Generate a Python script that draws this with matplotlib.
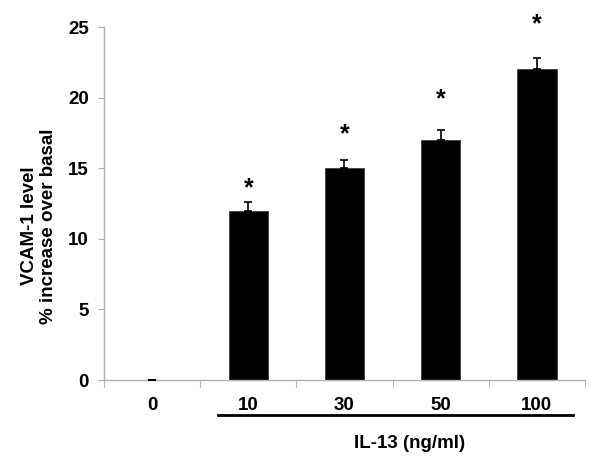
import matplotlib
matplotlib.use("Agg")
import matplotlib.pyplot as plt
import matplotlib.transforms as mtransforms

categories = ["0", "10", "30", "50", "100"]
values = [0, 12, 15, 17, 22]
errors = [0, 0.6, 0.6, 0.7, 0.8]
star_y = [None, 13.6, 17.4, 19.9, 25.2]
yticks = [0, 5, 10, 15, 20, 25]

plt.rcParams['font.family'] = ['Liberation Sans', 'DejaVu Sans']
plt.rcParams['font.weight'] = 'bold'

fig = plt.figure(figsize=(6, 4.58), dpi=100)
ax = fig.add_axes([0.1733, 0.1703, 0.8017, 0.7707])

x = list(range(len(categories)))
ax.bar(x, values, width=0.41, color='black', edgecolor='#404040', linewidth=0.6, zorder=2)
ax.errorbar(x, values, yerr=[[0]*len(errors), errors], fmt='none', ecolor='black',
            elinewidth=1.2, capsize=3, capthick=1.2, zorder=3)

for xi, sy in zip(x, star_y):
    if sy is not None:
        ax.text(xi, sy, '*', ha='center', va='center', fontsize=18, fontweight='bold')

ax.set_xlim(-0.5, 4.5)
ax.set_ylim(0, 25)
ax.set_yticks(yticks)
ax.set_yticklabels([str(t) for t in yticks], fontsize=13.5, fontweight='bold')
ax.set_xticks([i + 0.5 for i in range(-1, len(categories))])
ax.set_xticklabels([])
ax.set_xticks(x, minor=True)
ax.set_xticklabels(categories, minor=True, fontsize=13.5, fontweight='bold')
ax.tick_params(axis='x', which='minor', length=0, pad=12)
ax.tick_params(axis='x', which='major', length=5, color='#b0b0b0', direction='out')
ax.tick_params(axis='y', length=4, color='#b0b0b0', direction='out', pad=7)

for s in ['top', 'right']:
    ax.spines[s].set_visible(False)
for s in ['left', 'bottom']:
    ax.spines[s].set_color('#b0b0b0')
    ax.spines[s].set_linewidth(1.0)

trans = mtransforms.blended_transform_factory(ax.transData, ax.transAxes)
ax.plot([0.685, 4.375], [-0.098, -0.098], color='black', linewidth=2, transform=trans, clip_on=False)

fig.text(0.683, 1 - 443/458, 'IL-13 (ng/ml)', ha='center', va='center', fontsize=13.5, fontweight='bold')
fig.text(0.065, 1 - 226/458, 'VCAM-1 level\n% increase over basal', ha='center', va='center',
         rotation=90, fontsize=13.5, fontweight='bold', linespacing=1.1)

fig.savefig('out.png', dpi=100)
